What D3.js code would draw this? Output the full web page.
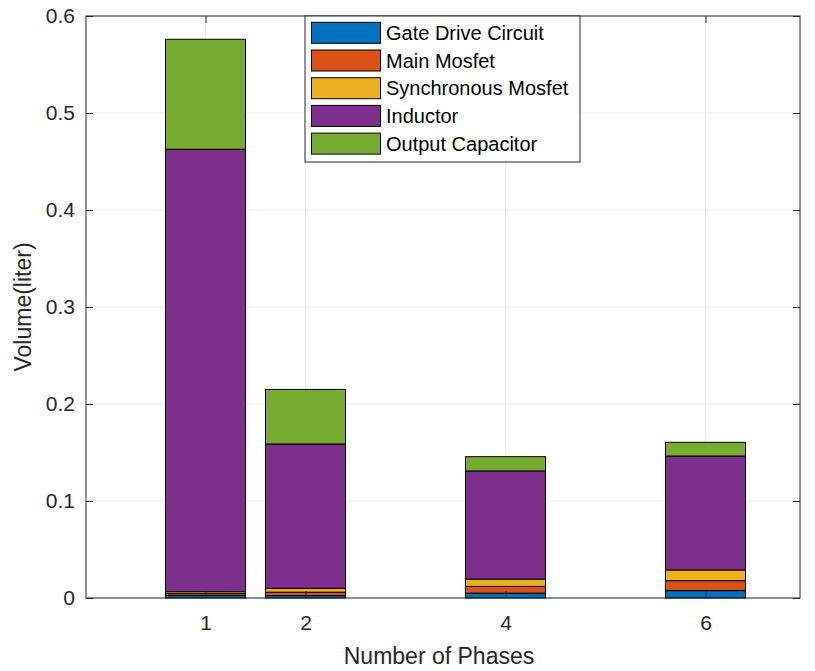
<!DOCTYPE html>
<html>
<head>
<meta charset="utf-8">
<script src="https://cdn.jsdelivr.net/npm/d3@7"></script>
<style>
  body { margin: 0; background: #fff; }
  text { font-family: "Liberation Sans", Arial, Helvetica, sans-serif; }
</style>
</head>
<body>
<div id="chart"></div>
<script>
// chart values
var phases = [1, 2, 4, 6]
var seriesNames = ["Gate Drive Circuit", "Main Mosfet", "Synchronous Mosfet", "Inductor", "Output Capacitor"]
var gateDrive = [0.0025, 0.0025, 0.005, 0.0076]
var mainMosfet = [0.002, 0.0035, 0.007, 0.0103]
var syncMosfet = [0.002, 0.004, 0.0075, 0.011]
var inductor = [0.4561, 0.1488, 0.1115, 0.1175]
var outputCap = [0.1134, 0.0562, 0.0147, 0.0141]
var yTicks = [0, 0.1, 0.2, 0.3, 0.4, 0.5, 0.6]

var colors = ["#0072BD", "#D95319", "#EDB120", "#7E2F8E", "#77AC30"]

function init() {
    var w = 815
    var h = 671
    var left = 86, right = 800, top = 16, bottom = 598
    var axisColor = "#262626"

    var svg = d3.select("#chart")
                .append("svg")
                .attr("width", w)
                .attr("height", h)

    var x = d3.scaleLinear().domain([-0.195, 6.945]).range([left, right])
    var y = d3.scaleLinear().domain([0, 0.6]).range([bottom, top])

    // grid
    svg.append("g")
        .selectAll("line")
        .data(yTicks)
        .enter()
        .append("line")
        .attr("x1", left)
        .attr("x2", right)
        .attr("y1", d => y(d))
        .attr("y2", d => y(d))
        .attr("stroke", "#ebebeb")
        .attr("stroke-width", 1)
    svg.append("g")
        .selectAll("line")
        .data(phases)
        .enter()
        .append("line")
        .attr("x1", d => x(d))
        .attr("x2", d => x(d))
        .attr("y1", top)
        .attr("y2", bottom)
        .attr("stroke", "#ebebeb")
        .attr("stroke-width", 1)

    // stacked bars
    var table = phases.map((p, i) => ({
        phase: p,
        "Gate Drive Circuit": gateDrive[i],
        "Main Mosfet": mainMosfet[i],
        "Synchronous Mosfet": syncMosfet[i],
        "Inductor": inductor[i],
        "Output Capacitor": outputCap[i]
    }))
    var stacked = d3.stack().keys(seriesNames)(table)
    var barW = 0.8

    svg.append("g")
        .selectAll("g")
        .data(stacked)
        .enter()
        .append("g")
        .attr("fill", (d, i) => colors[i])
        .selectAll("rect")
        .data(d => d)
        .enter()
        .append("rect")
        .attr("x", d => x(d.data.phase - barW / 2))
        .attr("width", d => x(barW) - x(0))
        .attr("y", d => y(d[1]))
        .attr("height", d => y(d[0]) - y(d[1]))
        .attr("stroke", "#000")
        .attr("stroke-width", 1)

    // axes, ticks inward
    var xAxis = svg.append("g")
        .attr("transform", `translate(0,${bottom})`)
        .call(d3.axisBottom(x).tickValues(phases).tickFormat(d3.format("d")).tickSize(-7).tickPadding(17))
    var xTop = svg.append("g")
        .attr("transform", `translate(0,${top})`)
        .call(d3.axisTop(x).tickValues(phases).tickFormat("").tickSize(-7))
    var yAxis = svg.append("g")
        .attr("transform", `translate(${left},0)`)
        .call(d3.axisLeft(y).tickValues(yTicks).tickFormat(d => d === 0 ? "0" : d3.format(".1f")(d)).tickSize(-7).tickPadding(11))
    var yRight = svg.append("g")
        .attr("transform", `translate(${right},0)`)
        .call(d3.axisRight(y).tickValues(yTicks).tickFormat("").tickSize(-7))

    ;[xAxis, xTop, yAxis, yRight].forEach(g => {
        g.select(".domain").remove()
        g.selectAll("line").attr("stroke", axisColor)
        g.selectAll("text")
            .attr("fill", axisColor)
            .style("font-size", "21px")
    })

    // box
    svg.append("rect")
        .attr("x", left)
        .attr("y", top)
        .attr("width", right - left)
        .attr("height", bottom - top)
        .attr("fill", "none")
        .attr("stroke", axisColor)
        .attr("stroke-width", 1)

    // axis titles
    svg.append("text")
        .text("Number of Phases")
        .attr("x", (left + right) / 2 - 4)
        .attr("y", 664)
        .attr("text-anchor", "middle")
        .attr("fill", axisColor)
        .style("font-size", "23px")
    svg.append("text")
        .text("Volume(liter)")
        .attr("transform", `translate(31,${(top + bottom) / 2}) rotate(-90)`)
        .attr("text-anchor", "middle")
        .attr("fill", axisColor)
        .style("font-size", "23px")

    // legend
    var legend = svg.append("g")
    legend.append("rect")
        .attr("x", 305)
        .attr("y", 16)
        .attr("width", 275)
        .attr("height", 146)
        .attr("fill", "#fff")
        .attr("stroke", axisColor)
        .attr("stroke-width", 1)
    var rows = legend.selectAll("g.item")
        .data(seriesNames)
        .enter()
        .append("g")
        .attr("class", "item")
        .attr("transform", (d, i) => `translate(0,${32.8 + i * 27.7})`)
    rows.append("rect")
        .attr("x", 311.5)
        .attr("y", -10.5)
        .attr("width", 69)
        .attr("height", 21)
        .attr("fill", (d, i) => colors[i])
        .attr("stroke", "#000")
        .attr("stroke-width", 1)
    rows.append("text")
        .text(d => d)
        .attr("x", 386)
        .attr("y", 0)
        .attr("dy", "0.35em")
        .attr("fill", "#000")
        .style("font-size", "20px")
}

window.onload = init;
</script>
</body>
</html>
